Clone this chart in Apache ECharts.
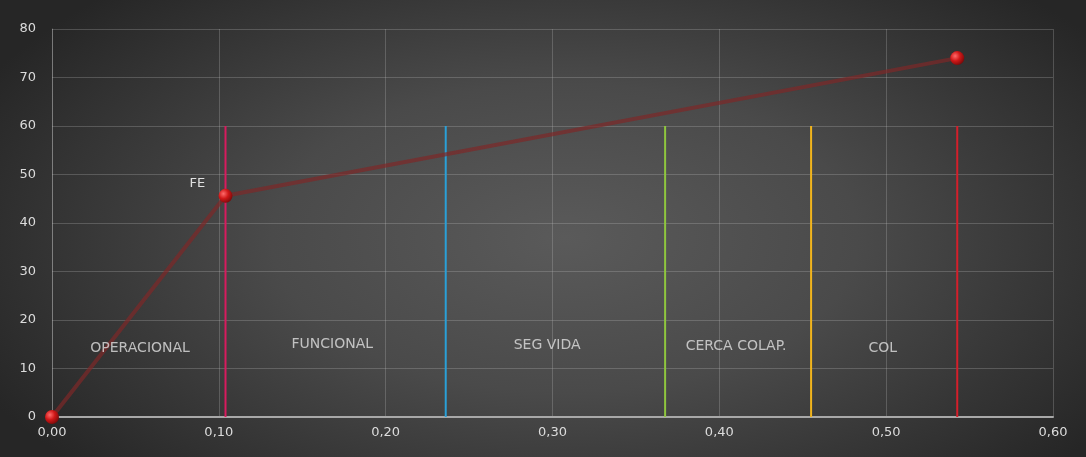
<!DOCTYPE html>
<html><head><meta charset="utf-8">
<script src="https://cdn.jsdelivr.net/npm/echarts@6/dist/echarts.min.js"></script>
<style>
html,body{margin:0;padding:0;}
#c{width:1086px;height:457px;background:radial-gradient(ellipse 60% 75% at 52% 52%, #5a5a5a 0%, #4a4a4a 45%, #333 80%, #262626 100%);}
</style></head><body>
<div id="c"></div>
<script>
// Capacity curve points (displacement, force)
const curveX = [0.0, 0.104, 0.5426];
const curveY = [0, 45.6, 74.0];
const curveNames = ['', 'FE', ''];
// Performance limit lines
const limitX = [0.104, 0.236, 0.3675, 0.455, 0.5426];
const limitTop = 60;
const limitColors = ['#d81b5e', '#2aa0d8', '#8fc63e', '#f2b51c', '#d41f2b'];
// Zone labels (centre positions)
const zoneNames = ['OPERACIONAL', 'FUNCIONAL', 'SEG VIDA', 'CERCA COLAP.', 'COL'];
const zoneX = [0.0528, 0.168, 0.2968, 0.410, 0.498];
const zoneY = [14.2, 15.0, 14.8, 14.5, 14.2];
const xTicks = [0, 0.1, 0.2, 0.3, 0.4, 0.5, 0.6];

const chart = echarts.init(document.getElementById('c'));
const series = [];
limitX.forEach((x, i) => {
  series.push({
    type: 'line', data: [[x, 0], [x, limitTop]], symbol: 'none',
    lineStyle: { color: limitColors[i], width: 2 }, z: 2, silent: true
  });
});
series.push({
  type: 'line',
  data: curveX.map((x, i) => ({ value: [x, curveY[i]], name: curveNames[i] })),
  lineStyle: { color: 'rgba(125,40,40,0.7)', width: 4 },
  symbol: 'circle', symbolSize: 14,
  itemStyle: {
    color: new echarts.graphic.RadialGradient(0.35, 0.35, 0.7, [
      { offset: 0, color: '#ff6a6a' }, { offset: 0.5, color: '#d01818' }, { offset: 1, color: '#7a0a0a' }
    ])
  },
  label: {
    show: true, position: [-29, -12], color: '#e0e0e0', fontSize: 13,
    fontFamily: 'DejaVu Sans',
    formatter: p => p.data.name
  },
  z: 5
});
series.push({
  type: 'scatter', symbolSize: 1,
  itemStyle: { color: 'rgba(0,0,0,0)' },
  data: zoneNames.map((n, i) => ({ value: [zoneX[i], zoneY[i]], name: n })),
  label: { show: true, position: 'inside', color: '#e0e0e0', fontSize: 14, fontFamily: 'DejaVu Sans', formatter: p => p.data.name },
  z: 6, silent: true
});

chart.setOption({
  animation: false,
  backgroundColor: 'transparent',
  grid: { left: 52, right: 33, top: 29, bottom: 40 },
  xAxis: {
    type: 'value', min: 0, max: 0.6, interval: 0.1,
    axisLine: { show: true, lineStyle: { color: '#a8a8a8', width: 2 } },
    axisTick: { show: false },
    axisLabel: { color: '#dcdcdc', fontSize: 13, margin: 9, fontFamily: 'DejaVu Sans',
      formatter: v => v.toFixed(2).replace('.', ',') },
    splitLine: { show: true, lineStyle: { color: 'rgba(200,200,200,0.25)', width: 1 } }
  },
  yAxis: {
    type: 'value', min: 0, max: 80, interval: 10,
    axisLine: { show: true, lineStyle: { color: 'rgba(200,200,200,0.35)', width: 1 } },
    axisTick: { show: false },
    axisLabel: { color: '#dcdcdc', fontSize: 13, margin: 16, fontFamily: 'DejaVu Sans' },
    splitLine: { show: true, lineStyle: { color: 'rgba(200,200,200,0.25)', width: 1 } }
  },
  series: series
});
</script>
</body></html>
